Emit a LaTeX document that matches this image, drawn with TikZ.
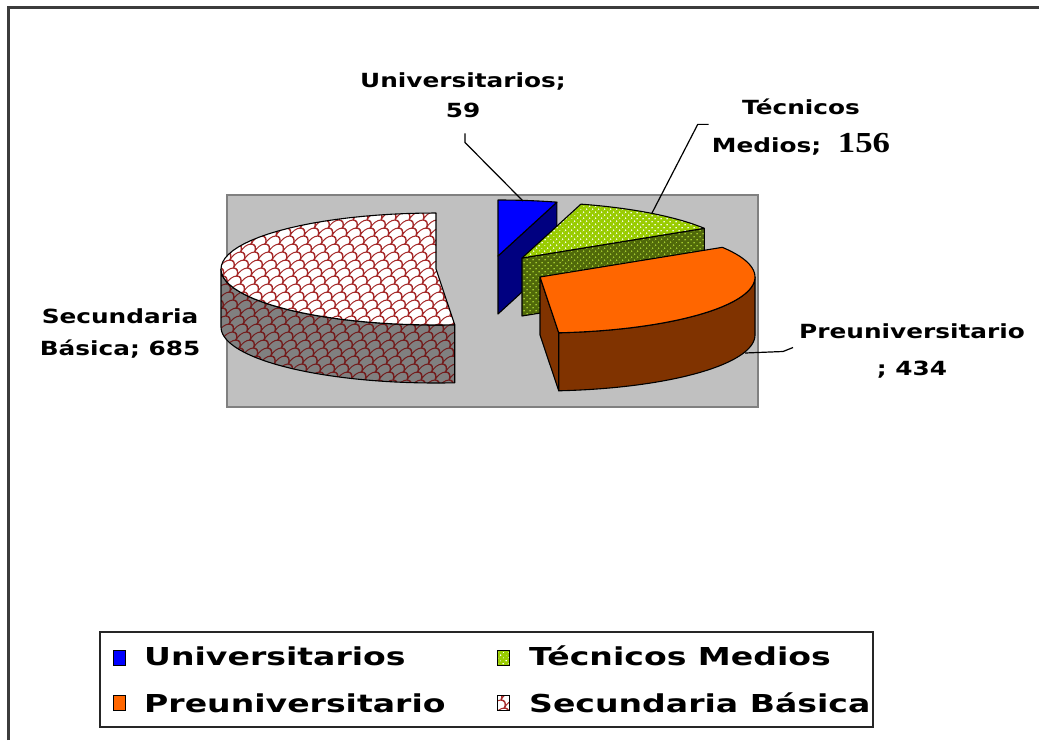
\documentclass[tikz,border=0pt]{standalone}
\usepackage{fontspec}
\usetikzlibrary{patterns.meta}
\newfontfamily\lblfont{DejaVu Sans}[FakeStretch=1.27]
\newfontfamily\lgdfont{DejaVu Sans}[FakeStretch=1.34]
\newfontfamily\numfont{Liberation Serif}[FakeStretch=1.2]
\definecolor{ublue}{RGB}{0,0,255}
\definecolor{unavy}{RGB}{0,0,128}
\definecolor{gtop}{RGB}{153,204,0}
\definecolor{gside}{RGB}{80,105,10}
\definecolor{otop}{RGB}{255,102,0}
\definecolor{oside}{RGB}{128,51,0}
\definecolor{scalered}{RGB}{165,40,40}
\definecolor{sside}{RGB}{128,128,128}
\definecolor{plotgray}{RGB}{192,192,192}
\definecolor{plotedge}{RGB}{128,128,128}
\definecolor{framec}{RGB}{60,60,60}
\tikzdeclarepattern{
  name=scales, type=uncolored,
  bottom left={(-1pt,-1pt)}, top right={(15pt,17pt)},
  tile size={(14pt,16pt)},
  tile transformation={xslant=0.45},
  code={
    \tikzset{x=1pt,y=1pt}
    \draw[line width=1.2pt] (0,0) arc[start angle=180,end angle=0,x radius=7,y radius=8]
      (-7,8) arc[start angle=180,end angle=0,x radius=7,y radius=8]
      (7,8) arc[start angle=180,end angle=0,x radius=7,y radius=8];
  }
}
\tikzdeclarepattern{
  name=gdots, type=uncolored,
  bottom left={(0pt,0pt)}, top right={(4pt,4pt)},
  tile size={(4pt,4pt)},
  tile transformation={rotate=45},
  code={ \fill (2pt,2pt) circle[radius=0.9pt]; }
}
\newcommand\rimfrom[4]{plot[domain=#3:#4,samples=48,variable=\q]({#1+215*cos(\q)},{#2+56*sin(\q)})}
\newcommand\rimto[4]{-- plot[domain=#3:#4,samples=48,variable=\q]({#1+215*cos(\q)},{#2+56*sin(\q)})}
\begin{document}
\begin{tikzpicture}[x=1pt,y=-1pt,
  faceline/.style={draw=black, line width=1.1pt, line join=round},
  sectop/.style={faceline, preaction={fill=white}, pattern={scales}, pattern color=scalered},
  secside/.style={faceline, preaction={fill=sside}, pattern={scales}, pattern color=scalered!70!black},
  untop/.style={faceline, fill=ublue},
  unside/.style={faceline, fill=unavy},
  tectop/.style={faceline, preaction={fill=gtop}, pattern={gdots}, pattern color=white},
  tecside/.style={faceline, preaction={fill=gside}, pattern={gdots}, pattern color=gtop!80!white},
  pretop/.style={faceline, fill=otop},
  preside/.style={faceline, fill=oside},
  lead/.style={draw=black, line width=1.2pt},
  lbl/.style={font=\lblfont\bfseries\fontsize{19.5}{30}\selectfont, align=center, inner sep=0pt, text=black},
  lgd/.style={font=\lgdfont\bfseries\fontsize{24.7}{30}\selectfont, inner sep=0pt, anchor=base west, text=black},
  keybox/.style={draw=black, line width=1pt}
]
\useasboundingbox (0,0) rectangle (1039,740);
\fill[white] (0,0) rectangle (1039,740);
\draw[framec, line width=3pt] (8,740) -- (8,7) -- (1039,7);
% plot area
\draw[fill=plotgray, draw=plotedge, line width=1.5pt] (227,195) rectangle (758,407);
% Secundaria Basica
\path[secside] \rimfrom{436}{269}{85}{180} \rimto{436}{327}{180}{85} -- cycle;
\path[sectop] (436,269) \rimto{436}{269}{85}{270} -- cycle;
% Universitarios
\path[unside] (498,256) -- ({498+215*cos(-74.1)},{256+56*sin(-74.1)}) -- ({498+215*cos(-74.1)},{314+56*sin(-74.1)}) -- (498,314) -- cycle;
\path[untop] (498,256) \rimto{498}{256}{-90}{-74.1} -- cycle;
% Tecnicos Medios
\path[tecside] (522,258) -- ({522+215*cos(-32)},{258+56*sin(-32)}) -- ({522+215*cos(-32)},{316+56*sin(-32)}) -- (522,316) -- cycle;
\path[tectop] (522,258) \rimto{522}{258}{-74.1}{-32} -- cycle;
% Preuniversitario
\path[preside] (540,277) -- ({540+215*cos(85)},{277+56*sin(85)}) -- ({540+215*cos(85)},{335+56*sin(85)}) -- (540,335) -- cycle;
\path[preside] \rimfrom{540}{277}{0}{85} \rimto{540}{335}{85}{0} -- cycle;
\path[pretop] (540,277) \rimto{540}{277}{-32}{85} -- cycle;
% leader ends
\coordinate (uend) at (523,201);
\coordinate (tend) at (652,213);
\coordinate (pend) at (745,353);
% labels
\node[lbl, anchor=north] (univ) at (463,72) {Universitarios;\\59};
\node[lbl, anchor=north] (tec) at (801,99) {Técnicos\\[8pt]Medios; \kern8pt{\numfont\bfseries\fontsize{29}{30}\selectfont 156}};
\node[lbl, anchor=north] (sec) at (120,308) {Secundaria\\[2pt]Básica; 685};
\node[lbl, anchor=north] (pre) at (912,323) {Preuniversitario\\[7pt]; 434};
\draw[lead] (univ.south) ++(2,16) -- ++(0,9) -- (uend);
\draw[lead] (tec.west) ++(-3,-3) -- ++(-11,0) -- (tend);
\draw[lead] (pre.west) ++(-6,-3) -- ++(-10,4) -- (pend);
% legend
\draw[fill=white, draw=black!85, line width=2pt] (100,632) rectangle (873,727);
\draw[keybox, fill=ublue] (113,650) rectangle (125,665);
\path[keybox, preaction={fill=gtop}, pattern={gdots}, pattern color=white] (497,650) rectangle (509,665);
\draw[keybox, fill=otop] (113,695) rectangle (125,710);
\path[keybox, preaction={fill=white}, pattern={scales}, pattern color=scalered] (497,695) rectangle (509,710);
\node[lgd] (lu) at (144,665) {Universitarios};
\node[lgd] (lt) at (529,665) {Técnicos Medios};
\node[lgd] (lp) at (144,712) {Preuniversitario};
\node[lgd] (ls) at (529,712) {Secundaria Básica};
\end{tikzpicture}
\end{document}
